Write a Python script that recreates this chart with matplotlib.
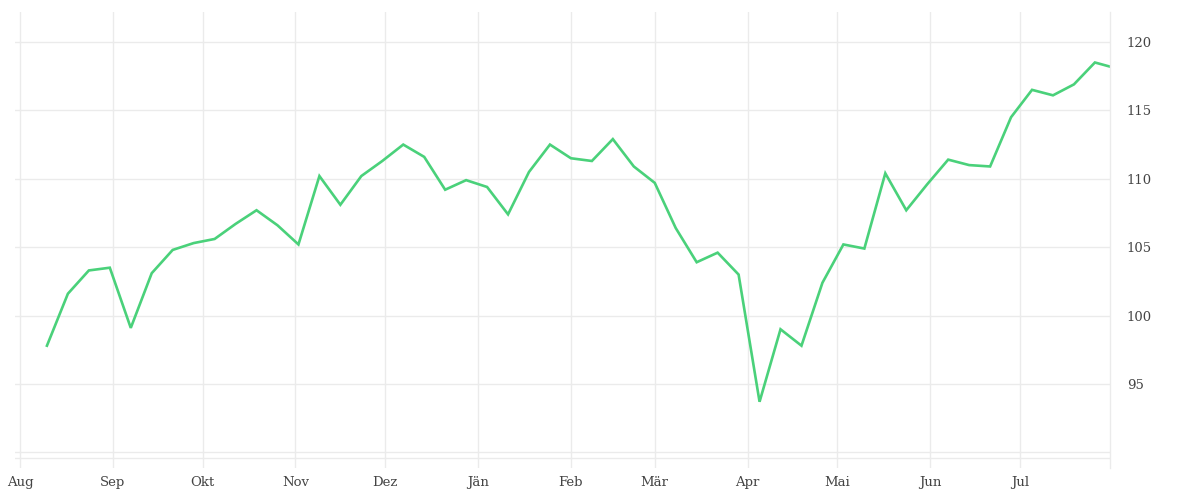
import numpy as np
import pandas as pd
import matplotlib.pyplot as plt
import matplotlib.dates as mdates

# weekly values
dates = list(pd.date_range('2022-08-10', periods=51, freq='7D')) + [pd.Timestamp('2023-07-31')]
values = [
    97.8, 101.6, 103.3, 103.5, 99.1, 103.1, 104.8, 105.3, 105.6, 106.7,
    107.7, 106.6, 105.2, 110.2, 108.1, 110.2, 111.3, 112.5, 111.6, 109.2,
    109.9, 109.4, 107.4, 110.5, 112.5, 111.5, 111.3, 112.9, 110.9, 109.7,
    106.4, 103.9, 104.6, 103.0, 93.7, 99.0, 97.8, 102.4, 105.2, 104.9,
    110.4, 107.7, 109.6, 111.4, 111.0, 110.9, 114.5, 116.5, 116.1, 116.9,
    118.5, 118.2,
]
month_labels = ['Aug', 'Sep', 'Okt', 'Nov', 'Dez', 'Jän', 'Feb', 'Mär',
                'Apr', 'Mai', 'Jun', 'Jul']
month_ticks = pd.date_range('2022-08-01', periods=12, freq='MS')
y_ticks = [95, 100, 105, 110, 115, 120]

grid_col = '#ebebeb'
text_col = '#444444'

plt.rcParams['font.family'] = ['DejaVu Serif']

fig = plt.figure(figsize=(12, 5), dpi=100)
ax = fig.add_axes([15 / 1200, 1 - 468 / 500, 1095 / 1200, 456 / 500])

ax.plot(dates, values, color='#4ad17a', linewidth=1.9, solid_joinstyle='miter')

ax.set_xlim(pd.Timestamp('2022-07-30 08:00'), pd.Timestamp('2023-07-31 01:00'))
ax.set_ylim(88.86, 122.19)

ax.set_xticks(month_ticks)
ax.set_xticklabels(month_labels)
ax.set_yticks(y_ticks + [90])
ax.set_yticklabels([str(v) for v in y_ticks] + [''])
ax.yaxis.tick_right()

ax.grid(True, color=grid_col, linewidth=1)
ax.set_axisbelow(True)
# second faint line near the bottom
ax.plot([0, 1], [0.022, 0.022], transform=ax.transAxes, color=grid_col, linewidth=1)

ax.tick_params(axis='both', length=0, labelsize=9.5, labelcolor=text_col)
ax.tick_params(axis='x', pad=6)
ax.tick_params(axis='y', pad=12)
for lab in ax.get_yticklabels():
    lab.set_horizontalalignment('left')

for side in ['top', 'left', 'bottom']:
    ax.spines[side].set_visible(False)
ax.spines['right'].set_color(grid_col)
ax.spines['right'].set_linewidth(1)

fig.savefig('out.png', dpi=100)
